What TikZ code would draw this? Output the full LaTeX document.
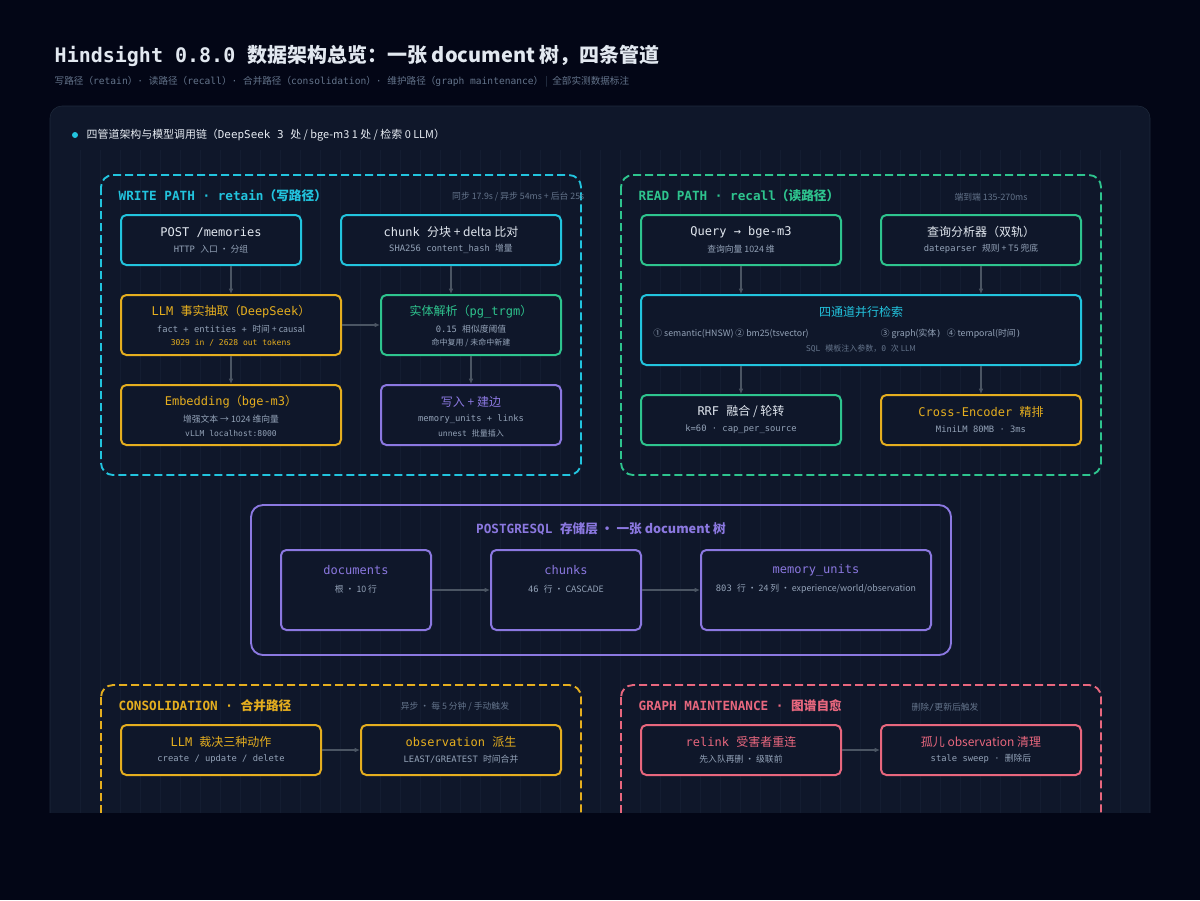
\documentclass[tikz,border=0pt]{standalone}
\usepackage{fontspec}
\setmainfont{DejaVu Sans Mono}
\newfontfamily\monof{DejaVu Sans Mono}
\newfontfamily\cjkf{Noto Sans CJK SC}
\usetikzlibrary{positioning,fit,calc,arrows.meta}
% CJK characters switch to the CJK family
\newXeTeXintercharclass\cjkclass
\newcount\cc
\def\setcls#1#2{\cc=#1 \loop\XeTeXcharclass\cc=\cjkclass\advance\cc 1 \ifnum\cc<#2\repeat}
\setcls{"4E00}{"A000}
\setcls{"3000}{"3040}
\setcls{"FF00}{"FFF0}
\setcls{"2460}{"2500}
\XeTeXinterchartokenstate=1
\XeTeXinterchartoks 0 \cjkclass {\cjkf}
\XeTeXinterchartoks 4095 \cjkclass {\cjkf}
\XeTeXinterchartoks \cjkclass 0 {\monof}
\definecolor{pagebg}{HTML}{030616}
\definecolor{panelbg}{HTML}{0F172A}
\definecolor{panelln}{HTML}{1E293B}
\definecolor{gridln}{HTML}{141D31}
\definecolor{ccyan}{HTML}{22C4DE}
\definecolor{cgreen}{HTML}{2EC48E}
\definecolor{cyellow}{HTML}{E5AE1F}
\definecolor{cpurple}{HTML}{8B78E0}
\definecolor{cpink}{HTML}{E8677E}
\definecolor{ctext}{HTML}{E2E8F0}
\definecolor{csub}{HTML}{94A3B8}
\definecolor{cdim}{HTML}{64748B}
\definecolor{cbar}{HTML}{334155}
\definecolor{carrow}{HTML}{4B5563}
\begin{document}
\begin{tikzpicture}[x=0.75pt,y=-0.75pt,
    box/.style={draw=#1, line width=1.5pt, rounded corners=4pt, fill=panelbg, inner sep=0pt},
    group/.style={draw=#1, line width=1.4pt, dash pattern=on 6pt off 3pt, rounded corners=9pt},
    ttl/.style={text=#1, font=\fontsize{9}{11}\selectfont, align=center},
    sub/.style={text=csub, font=\fontsize{6.6}{11}\selectfont, align=center},
    gtitle/.style={text=#1, font=\bfseries\fontsize{9.5}{11}\selectfont, anchor=west},
    meta/.style={text=cdim, font=\fontsize{6.6}{8}\selectfont},
    flow/.style={-{Latex[length=4pt,width=3.5pt]}, draw=carrow, line width=1.1pt}]
\fill[pagebg] (0,0) rectangle (1200,900);
\useasboundingbox (0,0) rectangle (1200,900);
% title
\node[anchor=west, text=ctext, font=\bfseries\fontsize{15}{17}\selectfont] (title) at (50,56) {Hindsight 0.8.0 数据架构总览：一张 document 树，四条管道};
\node[anchor=west, text=cdim, font=\fontsize{7.2}{9}\selectfont] (subtitle) at (50,82) {写路径（retain）· 读路径（recall）· 合并路径（consolidation）· 维护路径（graph maintenance） \textcolor{cbar}{|}\ \ 全部实测数据标注};
% panel
\draw[fill=panelbg, draw=panelln, rounded corners=9pt] (50,106) rectangle (1150,880);
\begin{scope}
  \clip (70,150) rectangle (1130,880);
  \draw[gridln, line width=0.4pt] (70,150) grid[step=20] (1130,880);
\end{scope}
\fill[ccyan] (75,135) circle (3);
\node[anchor=west, text=ctext!85, font=\fontsize{8.2}{10}\selectfont] (head) at (82,135) {四管道架构与模型调用链（DeepSeek 3 处 / bge-m3 1 处 / 检索 0 LLM）};

% write path
\draw[group=ccyan] (101,175) rectangle (581,475);
\node[gtitle=ccyan] at (114,196) {WRITE PATH · retain（写路径）};
\node[meta, anchor=east] at (589,197) {同步 17.9s / 异步 54ms + 后台 25s};
\node[box=ccyan, fit={(121,215)(301,265)}] (post) {};
\node[box=ccyan, fit={(341,215)(561,265)}] (chunk) {};
\node[box=cyellow, fit={(121,295)(341,355)}] (llm) {};
\node[box=cgreen, fit={(381,295)(561,355)}] (entity) {};
\node[box=cyellow, fit={(121,385)(341,445)}] (embed) {};
\node[box=cpurple, fit={(381,385)(561,445)}] (store) {};
\node[ttl=ctext] at ($(post.north)+(0,18)$) {POST /memories};
\node[sub] at ($(post.north)+(0,35)$) {HTTP 入口 · 分组};
\node[ttl=ctext] at ($(chunk.north)+(0,18)$) {chunk 分块 + delta 比对};
\node[sub] at ($(chunk.north)+(0,35)$) {SHA256 content\_hash 增量};
\node[ttl=cyellow] at ($(llm.north)+(0,18)$) {LLM 事实抽取（DeepSeek）};
\node[sub] at ($(llm.north)+(0,35)$) {fact + entities + 时间 + causal};
\node[sub, text=cyellow, font=\fontsize{6}{8}\selectfont] at ($(llm.north)+(0,49)$) {3029 in / 2628 out tokens};
\node[ttl=cgreen] at ($(entity.north)+(0,18)$) {实体解析（pg\_trgm）};
\node[sub] at ($(entity.north)+(0,35)$) {0.15 相似度阈值};
\node[sub, font=\fontsize{6}{8}\selectfont] at ($(entity.north)+(0,49)$) {命中复用 / 未命中新建};
\node[ttl=cyellow] at ($(embed.north)+(0,18)$) {Embedding（bge-m3）};
\node[sub] at ($(embed.north)+(0,35)$) {增强文本 → 1024 维向量};
\node[sub, font=\fontsize{6}{8}\selectfont] at ($(embed.north)+(0,49)$) {vLLM localhost:8000};
\node[ttl=cpurple] at ($(store.north)+(0,18)$) {写入 + 建边};
\node[sub] at ($(store.north)+(0,35)$) {memory\_units + links};
\node[sub, font=\fontsize{6}{8}\selectfont] at ($(store.north)+(0,49)$) {unnest 批量插入};
\draw[flow] (post.south -| llm) -- (llm.north);
\draw[flow] (chunk.south) -- (chunk.south |- entity.north);
\draw[flow] (llm.east) -- (entity.west);
\draw[flow] (llm.south) -- (embed.north);
\draw[flow] (entity.south) -- (store.north);

% read path
\draw[group=cgreen] (621,175) rectangle (1101,475);
\node[gtitle=cgreen] at (634,196) {READ PATH · recall（读路径）};
\node[meta] at (991,197) {端到端 135-270ms};
\node[box=cgreen, fit={(641,215)(841,265)}] (query) {};
\node[box=cgreen, fit={(881,215)(1081,265)}] (parser) {};
\node[box=ccyan, fit={(641,295)(1081,365)}] (search) {};
\node[box=cgreen, fit={(641,395)(841,445)}] (rrf) {};
\node[box=cyellow, fit={(881,395)(1081,445)}] (rerank) {};
\node[ttl=ctext] at ($(query.north)+(0,18)$) {Query → bge-m3};
\node[sub] at ($(query.north)+(0,35)$) {查询向量 1024 维};
\node[ttl=ctext] at ($(parser.north)+(0,18)$) {查询分析器（双轨）};
\node[sub] at ($(parser.north)+(0,35)$) {dateparser 规则 + T5 兜底};
\node[ttl=ccyan] at ($(search.north)+(0,18)$) {四通道并行检索};
\node[sub] at (731,334) {① semantic(HNSW) ② bm25(tsvector)};
\node[sub] at (951,334) {③ graph(实体) ④ temporal(时间)};
\node[sub, text=cdim, font=\fontsize{6}{8}\selectfont] at ($(search.north)+(0,55)$) {SQL 模板注入参数，0 次 LLM};
\node[ttl=ctext] at ($(rrf.north)+(0,18)$) {RRF 融合 / 轮转};
\node[sub] at ($(rrf.north)+(0,35)$) {k=60 · cap\_per\_source};
\node[ttl=cyellow] at ($(rerank.north)+(0,18)$) {Cross-Encoder 精排};
\node[sub] at ($(rerank.north)+(0,35)$) {MiniLM 80MB · 3ms};
\draw[flow] (query.south) -- (query.south |- search.north);
\draw[flow] (parser.south) -- (parser.south |- search.north);
\draw[flow] (search.south -| rrf) -- (rrf.north);
\draw[flow] (search.south -| rerank) -- (rerank.north);

% postgres layer
\draw[draw=cpurple, line width=1.4pt, rounded corners=9pt] (251,505) rectangle (951,655);
\node[text=cpurple, font=\bfseries\fontsize{9.5}{11}\selectfont] at (601,529) {POSTGRESQL 存储层 · 一张 document 树};
\node[box=cpurple, fit={(281,550)(431,630)}] (docs) {};
\node[box=cpurple, fit={(491,550)(641,630)}] (chunks) {};
\node[box=cpurple, fit={(701,550)(931,630)}] (units) {};
\node[ttl=cpurple] at ($(docs.north)+(0,21)$) {documents};
\node[sub] at ($(docs.north)+(0,40)$) {根 · 10 行};
\node[ttl=cpurple] at ($(chunks.north)+(0,21)$) {chunks};
\node[sub] at ($(chunks.north)+(0,40)$) {46 行 · CASCADE};
\node[ttl=cpurple] at ($(units.north)+(0,21)$) {memory\_units};
\node[sub] at ($(units.north)+(0,40)$) {803 行 · 24 列 · experience/world/observation};
\draw[flow] (docs.east) -- (chunks.west);
\draw[flow] (chunks.east) -- (units.west);

% consolidation
\draw[group=cyellow] (101,685) rectangle (581,880);
\node[gtitle=cyellow] at (114,706) {CONSOLIDATION · 合并路径};
\node[meta] at (455,707) {异步 · 每 5 分钟 / 手动触发};
\node[box=cyellow, fit={(121,725)(321,775)}] (judge) {};
\node[box=cyellow, fit={(361,725)(561,775)}] (obs) {};
\node[ttl=cyellow] at ($(judge.north)+(0,18)$) {LLM 裁决三种动作};
\node[sub] at ($(judge.north)+(0,35)$) {create / update / delete};
\node[ttl=cyellow] at ($(obs.north)+(0,18)$) {observation 派生};
\node[sub] at ($(obs.north)+(0,35)$) {LEAST/GREATEST 时间合并};
\draw[flow] (judge.east) -- (obs.west);

% graph maintenance
\draw[group=cpink] (621,685) rectangle (1101,880);
\node[gtitle=cpink] at (634,706) {GRAPH MAINTENANCE · 图谱自愈};
\node[meta] at (945,707) {删除/更新后触发};
\node[box=cpink, fit={(641,725)(841,775)}] (relink) {};
\node[box=cpink, fit={(881,725)(1081,775)}] (orphan) {};
\node[ttl=cpink] at ($(relink.north)+(0,18)$) {relink 受害者重连};
\node[sub] at ($(relink.north)+(0,35)$) {先入队再删 · 级联前};
\node[ttl=cpink] at ($(orphan.north)+(0,18)$) {孤儿 observation 清理};
\node[sub] at ($(orphan.north)+(0,35)$) {stale sweep · 删除后};
\draw[flow] (relink.east) -- (orphan.west);

% cut-off bottom
\fill[pagebg] (0,813) rectangle (1200,900);
\end{tikzpicture}
\end{document}
